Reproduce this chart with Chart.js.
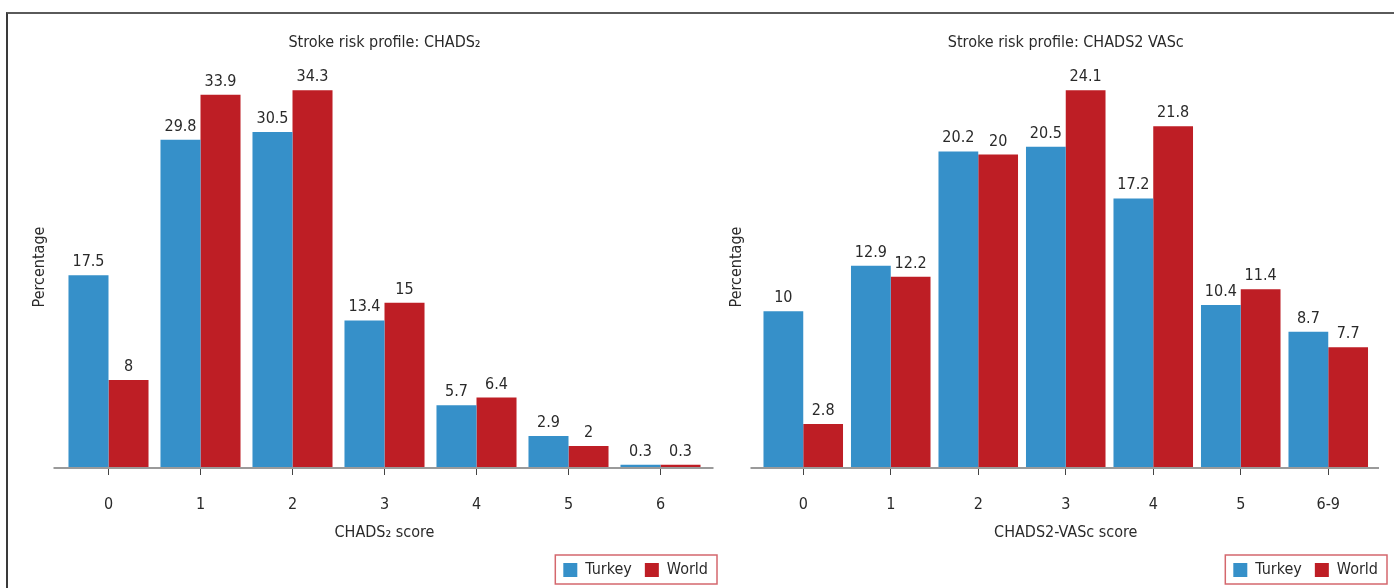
<!DOCTYPE html>
<html><head><meta charset="utf-8">
<script src="https://cdn.jsdelivr.net/npm/chart.js@4/dist/chart.umd.min.js"></script>
<style>
html,body{margin:0;padding:0;background:#fff;}
body{width:1394px;height:588px;overflow:hidden;position:relative;}
#frame{position:absolute;left:6px;top:12px;width:1388px;height:576px;border-top:2px solid #5a5a5a;border-left:2px solid #3a3a3a;box-sizing:border-box;}
#c1{position:absolute;left:0;top:0;}
#c2{position:absolute;left:697px;top:0;}
</style></head>
<body>
<div id="frame"></div>
<canvas id="c1" width="721" height="588"></canvas>
<canvas id="c2" width="694" height="588"></canvas>
<script>
// ---- data ----
const chadsCategories = ['0','1','2','3','4','5','6'];
const chadsTurkey = [17.5, 29.8, 30.5, 13.4, 5.7, 2.9, 0.3];
const chadsWorld  = [8, 33.9, 34.3, 15, 6.4, 2, 0.3];

const vascCategories = ['0','1','2','3','4','5','6-9'];
const vascTurkey = [10, 12.9, 20.2, 20.5, 17.2, 10.4, 8.7];
const vascWorld  = [2.8, 12.2, 20, 24.1, 21.8, 11.4, 7.7];

const seriesNames = ['Turkey', 'World'];

// ---- styles ----
const FONT = '"Liberation Sans Narrow", "DejaVu Sans Condensed", "Roboto Condensed", "Liberation Sans", sans-serif';
const TXT = '#2a2a2a';
const BLUE = '#3690c9';
const RED = '#be1e25';

const valueLabels = {
  id: 'valueLabels',
  afterDatasetsDraw(chart) {
    const ctx = chart.ctx;
    ctx.save();
    ctx.font = '16px ' + FONT;
    ctx.fillStyle = TXT;
    ctx.textAlign = 'center';
    ctx.textBaseline = 'alphabetic';
    chart.data.datasets.forEach((ds, i) => {
      const meta = chart.getDatasetMeta(i);
      meta.data.forEach((bar, j) => {
        ctx.fillText(String(ds.data[j]), bar.x, bar.y - 9);
      });
    });
    // baseline
    const y0 = chart.scales.y.getPixelForValue(0);
    ctx.strokeStyle = '#9a9a9a';
    ctx.lineWidth = 2;
    ctx.beginPath();
    ctx.moveTo(chart.chartArea.left - 9, y0);
    ctx.lineTo(chart.chartArea.right + 7, y0);
    ctx.stroke();
    ctx.restore();
  },
  afterDraw(chart) {
    const lg = chart.legend;
    if (!lg || !lg.legendHitBoxes || !lg.legendHitBoxes.length) return;
    const hb = lg.legendHitBoxes;
    let l = Infinity, r = -Infinity, t = Infinity, b = -Infinity;
    hb.forEach(h => { l = Math.min(l, h.left); r = Math.max(r, h.left + h.width); t = Math.min(t, h.top); b = Math.max(b, h.top + h.height); });
    const ctx = chart.ctx;
    ctx.save();
    ctx.strokeStyle = '#d4676d';
    ctx.lineWidth = 1.5;
    ctx.strokeRect(l - 8, t - 7, (r - l) + 17, (b - t) + 13);
    ctx.restore();
  }
};

function makeChart(canvasId, cats, turkey, world, title, xTitle, yMax, catPct, rightW) {
  return new Chart(document.getElementById(canvasId), {
    type: 'bar',
    data: {
      labels: cats,
      datasets: [
        { label: seriesNames[0], data: turkey, backgroundColor: BLUE, borderWidth: 0 },
        { label: seriesNames[1], data: world, backgroundColor: RED, borderWidth: 0 }
      ]
    },
    options: {
      responsive: false,
      animation: false,
      devicePixelRatio: 1,
      layout: { padding: { left: 20, right: 0, top: 0, bottom: 0 } },
      datasets: { bar: { categoryPercentage: catPct, barPercentage: 1.0 } },
      plugins: {
        title: {
          display: true, text: title, color: TXT, fullSize: false,
          font: { family: FONT, size: 16, weight: 'normal', lineHeight: 1.2 },
          padding: { top: 33.4, bottom: 13.4 }
        },
        legend: {
          display: true, position: 'bottom', align: 'end',
          labels: {
            color: TXT, boxWidth: 14, boxHeight: 14, padding: 13,
            font: { family: FONT, size: 16 }
          }
        },
        tooltip: { enabled: false }
      },
      scales: {
        x: {
          offset: true,
          grid: { display: true, drawOnChartArea: false, drawTicks: true, tickLength: 7, color: '#444', offset: false, lineWidth: 1 },
          border: { display: false },
          ticks: { color: TXT, padding: 20, font: { family: FONT, size: 16 }, maxRotation: 0 },
          title: { display: true, text: xTitle, color: TXT, font: { family: FONT, size: 16, lineHeight: 1.2 }, padding: { top: 0, bottom: 6.4 } },
          afterFit: s => { s.height = 81; }
        },
        y: {
          min: 0, max: yMax,
          grid: { display: false }, border: { display: false },
          ticks: { display: false },
          title: { display: true, text: 'Percentage', color: TXT, font: { family: FONT, size: 16, lineHeight: 1.2 }, padding: { top: 10, bottom: 0 } },
          afterFit: s => { s.width = 42.5; }
        },
        yr: {
          type: 'linear', position: 'right', display: true,
          grid: { display: false }, border: { display: false }, ticks: { display: false },
          afterFit: s => { s.width = rightW; }
        }
      }
    },
    plugins: [valueLabels]
  });
}

makeChart('c1', chadsCategories, chadsTurkey, chadsWorld,
  'Stroke risk profile: CHADS\u2082', 'CHADS\u2082 score', 36.5, 0.87, 14.5);
makeChart('c2', vascCategories, vascTurkey, vascWorld,
  'Stroke risk profile: CHADS2 VASc', 'CHADS2-VASc score', 25.65, 0.909, 19);
</script>
</body></html>
